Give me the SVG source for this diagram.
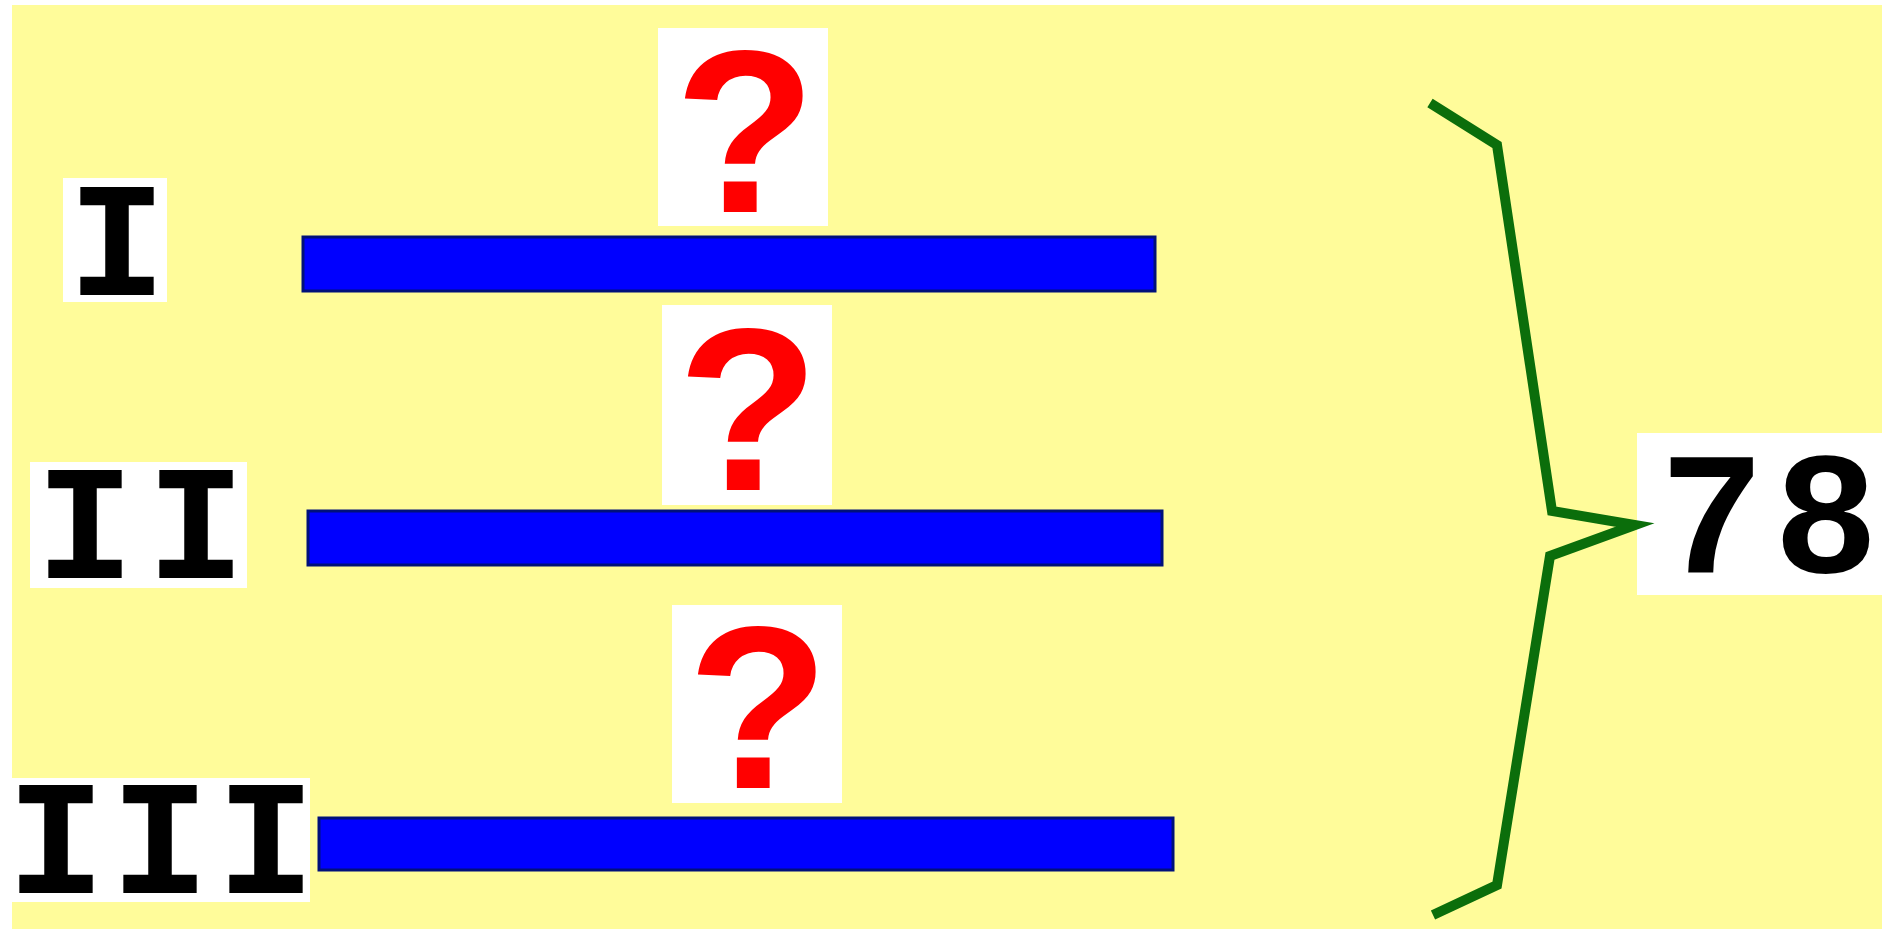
<svg xmlns="http://www.w3.org/2000/svg" width="1888" height="929" viewBox="0 0 1888 929">
<style>
.bg{fill:#FFFC9A}
.box{fill:#FFFFFF}
.bar{fill:#0000FF;stroke:#00107A;stroke-width:3}
.q{font-family:"Liberation Sans",Arial,sans-serif;font-weight:bold;font-size:232px;fill:#FF0000;text-anchor:middle}
.num{font-family:"Liberation Mono","Courier New",monospace;font-weight:bold;font-size:164px;fill:#000000;text-anchor:middle}
.dig{font-family:"Liberation Mono","Courier New",monospace;font-weight:bold;font-size:175px;fill:#000000;text-anchor:middle}
.brace{fill:none;stroke:#0B6E0B;stroke-width:10;stroke-linejoin:miter;stroke-linecap:butt}
</style>
<rect x="0" y="0" width="1888" height="929" fill="#FFFFFF"/>
<rect class="bg" x="12" y="5" width="1870" height="924"/>

<g id="label-I">
<rect class="box" x="63" y="178" width="104" height="124"/>
<text class="num" x="117" y="295">I</text>
</g>
<g id="label-II">
<rect class="box" x="30" y="462" width="217" height="126"/>
<text class="num" x="85 196" y="578">II</text>
</g>
<g id="label-III">
<rect class="box" x="12" y="778" width="298" height="124"/>
<text class="num" x="56 160 266" y="893">III</text>
</g>

<g id="q1">
<rect class="box" x="658" y="28" width="170" height="198"/>
<text class="q" x="745" y="212">?</text>
</g>
<g id="q2">
<rect class="box" x="662" y="305" width="170" height="200"/>
<text class="q" x="748" y="490">?</text>
</g>
<g id="q3">
<rect class="box" x="672" y="605" width="170" height="198"/>
<text class="q" x="758" y="788">?</text>
</g>

<g id="bar1"><rect class="bar" x="303" y="237" width="852" height="54"/></g>
<g id="bar2"><rect class="bar" x="308" y="511" width="854" height="54"/></g>
<g id="bar3"><rect class="bar" x="319" y="818" width="854" height="52"/></g>

<g id="total">
<rect class="box" x="1637" y="433" width="251" height="162"/>
<text class="dig" x="1712 1826" y="572">78</text>
</g>

<g id="connectors">
<path class="brace" d="M1430,103 L1497,145 L1552,511 L1635,525 L1550,556 L1497,885 L1433,915"/>
</g>
</svg>
